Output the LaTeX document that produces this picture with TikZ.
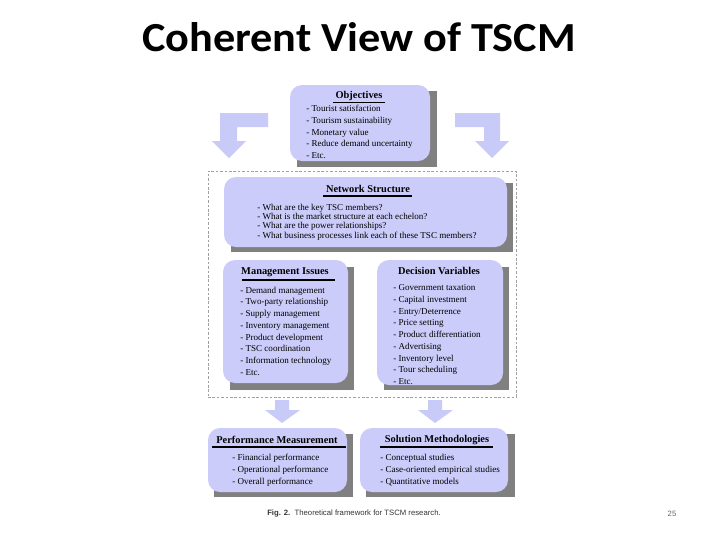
\documentclass[tikz,border=0pt]{standalone}
\usepackage{fontspec}
\setmainfont{Liberation Serif}
\newfontfamily\titlefont[FakeStretch=1.07]{Carlito}
\newfontfamily\capfont{Liberation Sans}
\usetikzlibrary{fit}
\definecolor{boxfill}{RGB}{204,204,250}
\definecolor{arrfill}{RGB}{200,202,248}
\definecolor{shadowc}{RGB}{128,128,128}
\definecolor{dashc}{RGB}{160,160,160}
\begin{document}
\begin{tikzpicture}[x=0.75pt,y=-0.75pt,
  box/.style={fill=boxfill, rounded corners=9pt, inner sep=0pt},
  shadowbox/.style={fill=shadowc, inner sep=0pt},
  head/.style={font=\fontsize{7.8}{9}\selectfont\bfseries, inner sep=0pt, anchor=center},
  items/.style={font=\fontsize{6.8}{8.8}\selectfont, align=left, inner sep=0pt, anchor=north west},
  uline/.style={line width=0.8pt},
  blockarrow/.style={fill=arrfill, draw=none}
]
\useasboundingbox (0,0) rectangle (720,540);

% title
\node[font=\titlefont\bfseries\fontsize{31}{36}\selectfont, inner sep=0pt] (title) at (359,37) {Coherent View of TSCM};

% dashed frame
\node[draw=dashc, dash pattern=on 2pt off 1.3pt, fit={(208,171) (516,397)}, inner sep=0pt] (frame) {};

% Objectives
\node[shadowbox, fit={(297,91) (437,167)}] (objs) {};
\node[box, fit={(290,85) (430,161)}] (obj) {};
\node[head] (objh) at (359,96) {Objectives};
\draw[uline] (333,102.5) -- (385,102.5);
\node[items] (objl) at (306,105) {- Tourist satisfaction\\- Tourism sustainability\\- Monetary value\\- Reduce demand uncertainty\\- Etc.};

% bent arrows
\fill[blockarrow] (268,113) -- (220,113) -- (220,141) -- (212,141) -- (229,158) -- (246,141) -- (237,141) -- (237,127) -- (268,127) -- cycle;
\fill[blockarrow] (455,113) -- (500,113) -- (500,141) -- (509,141) -- (492,158) -- (475,141) -- (484,141) -- (484,127) -- (455,127) -- cycle;

% Network Structure
\node[shadowbox, fit={(231,183) (513,252)}] (nets) {};
\node[box, fit={(224,177) (507,247)}] (net) {};
\node[head] (neth) at (368,189) {Network Structure};
\draw[uline] (323,196) -- (412,196);
\node[items, font=\fontsize{6.8}{7}\selectfont] (netl) at (257,203.5) {- What are the key TSC members?\\- What is the market structure at each echelon?\\- What are the power relationships?\\- What business processes link each of these TSC members?};

% Management Issues
\node[shadowbox, fit={(230,267) (354,390)}] (mans) {};
\node[box, fit={(223,260) (348,383)}] (man) {};
\node[head] (manh) at (285,272) {Management Issues};
\draw[uline] (242,280) -- (335,280);
\node[items] (manl) at (240,286.5) {- Demand management\\- Two-party relationship\\- Supply management\\- Inventory management\\- Product development\\- TSC coordination\\- Information technology\\- Etc.};

% Decision Variables
\node[shadowbox, fit={(384,267) (509,390)}] (decs) {};
\node[box, fit={(377,260) (503,385)}] (dec) {};
\node[head] (dech) at (439,271) {Decision Variables};
\node[items] (decl) at (393,284.5) {- Government taxation\\- Capital investment\\- Entry/Deterrence\\- Price setting\\- Product differentiation\\- Advertising\\- Inventory level\\- Tour scheduling\\- Etc.};

% down arrows
\fill[blockarrow] (275,400) -- (289,400) -- (289,410) -- (300,410) -- (282,423) -- (265,410) -- (275,410) -- cycle;
\fill[blockarrow] (428,400) -- (442,400) -- (442,410) -- (453,410) -- (435,423) -- (418,410) -- (428,410) -- cycle;

% Performance Measurement
\node[shadowbox, fit={(214,434) (353,497)}] (pers) {};
\node[box, fit={(208,428) (347,492)}] (per) {};
\node[head] (perh) at (277,440) {Performance Measurement};
\draw[uline] (212,447) -- (346,447);
\node[items, font=\fontsize{6.8}{9}\selectfont] (perl) at (232,454) {- Financial performance\\- Operational performance\\- Overall performance};

% Solution Methodologies
\node[shadowbox, fit={(366,434) (515,497)}] (sols) {};
\node[box, fit={(360,428) (508,492)}] (sol) {};
\node[head] (solh) at (437,440) {Solution Methodologies};
\draw[uline] (380,447) -- (493,447);
\node[items, font=\fontsize{6.8}{9}\selectfont] (soll) at (380,454) {- Conceptual studies\\- Case-oriented empirical studies\\- Quantitative models};

% caption
\node[font=\capfont\fontsize{5.8}{7}\selectfont, text=black!80, inner sep=0pt, anchor=west] (cap) at (267,514) {\textbf{Fig. 2.}\ \ Theoretical framework for TSCM research.};
\node[font=\capfont\fontsize{5.8}{7}\selectfont, text=black!60, inner sep=0pt] (pg) at (672,514) {25};
\end{tikzpicture}
\end{document}
